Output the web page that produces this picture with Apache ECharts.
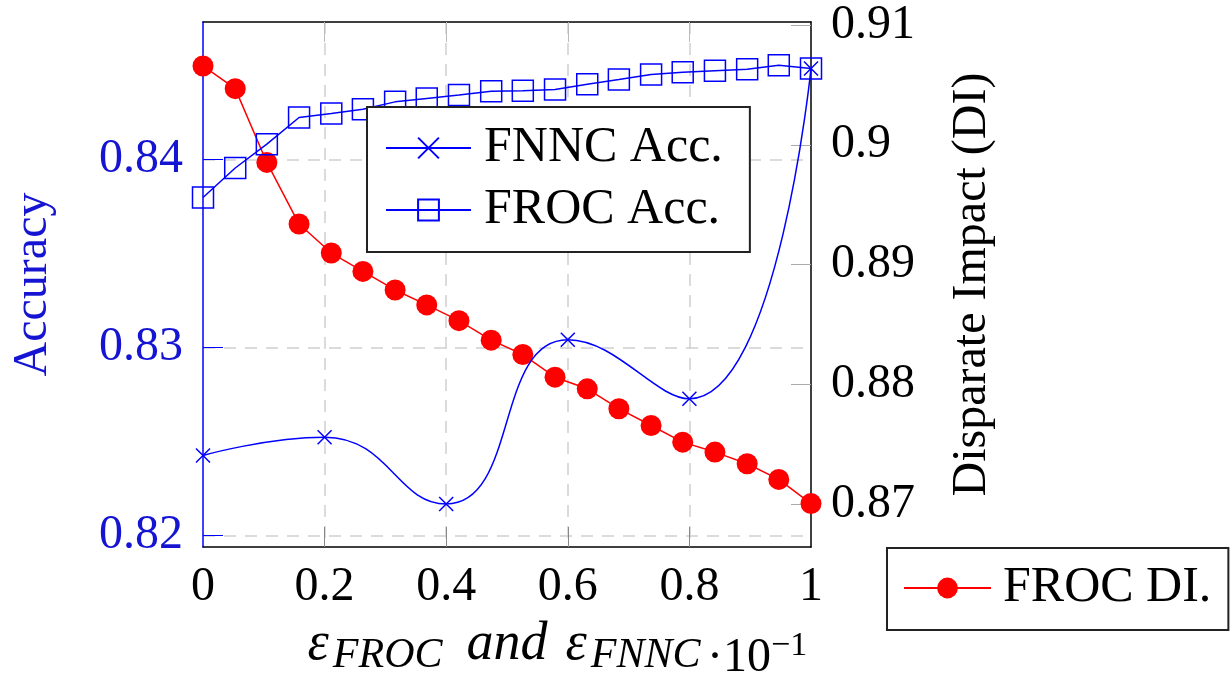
<!DOCTYPE html>
<html><head><meta charset="utf-8">
<script src="https://cdn.jsdelivr.net/npm/echarts@6/dist/echarts.min.js"></script>
<style>html,body{margin:0;padding:0;background:#fff}#c{width:1231px;height:685px}</style>
</head><body><div id="c"></div><script>
// ---- data ----
const xTickVals = [0, 0.2, 0.4, 0.6, 0.8, 1];
const xTickLabels = ['0', '0.2', '0.4', '0.6', '0.8', '1'];
const xGridVals = [0.2, 0.4, 0.6, 0.8];
const accTicks = [0.82, 0.83, 0.84];
const accTickLabels = ['0.82', '0.83', '0.84'];
const diTicks = [0.87, 0.88, 0.89, 0.90, 0.91];
const diTickLabels = ['0.87', '0.88', '0.89', '0.9', '0.91'];

const fnncX = [0, 0.2, 0.4, 0.6, 0.8, 1.0];
const fnncAcc = [0.82425, 0.82522, 0.82167, 0.83041, 0.82727, 0.84485];

const frocX = [0, 0.053, 0.105, 0.158, 0.211, 0.263, 0.316, 0.368, 0.421, 0.474,
               0.526, 0.579, 0.632, 0.684, 0.737, 0.789, 0.842, 0.895, 0.947, 1.0];
const frocAcc = [0.83798, 0.83955, 0.84082, 0.84224, 0.84245, 0.84268, 0.84307, 0.84325, 0.84343, 0.84364,
                 0.84366, 0.84373, 0.84401, 0.84426, 0.84453, 0.84464, 0.84472, 0.84480, 0.84502, 0.84485];
const frocDI = [0.90658, 0.90469, 0.89853, 0.89339, 0.89097, 0.88944, 0.88789, 0.88664, 0.88533, 0.88370,
                0.88250, 0.88061, 0.87964, 0.87798, 0.87658, 0.87519, 0.87436, 0.87339, 0.87208, 0.87006];

const accRange = [0.81938, 0.84732];
const diRange = [0.86644, 0.91025];
const xRange = [0, 1];

// ---- chart ----
const FONT = 'Liberation Serif';
const BLUE = '#0000ff';
const BLUE_TXT = '#1414d2';
const RED = '#ff0000';
const pick = (vals, labels) => v => { for (let i = 0; i < vals.length; i++) if (Math.abs(vals[i] - v) < 1e-9) return labels[i]; return ''; };
const zip = (a, b) => a.map((v, i) => [v, b[i]]);
const gridLine = { show: true, lineStyle: { color: '#cfcfcf', width: 1.5, type: [12, 9] } };

const chart = echarts.init(document.getElementById('c'), null, { renderer: 'canvas' });
chart.setOption({
  animation: false,
  backgroundColor: '#fff',
  grid: { left: 203, top: 22, right: 420, bottom: 138 },
  title: {
    text: '{d|·}{n|10}{p|−1}',
    left: 702, top: 624,
    textStyle: {
      fontWeight: 'normal',
      rich: {
        d: { fontFamily: FONT, fontSize: 48, fontWeight: 'normal', color: '#000', lineHeight: 58 },
        n: { fontFamily: FONT, fontSize: 48, fontWeight: 'normal', color: '#000', lineHeight: 58 },
        p: { fontFamily: FONT, fontSize: 34, fontWeight: 'normal', color: '#000', lineHeight: 34, verticalAlign: 'top' }
      }
    }
  },
  legend: [
    {
      data: ['FNNC Acc.', 'FROC Acc.'],
      orient: 'vertical', left: 367, top: 107,
      padding: [16, 27, 17, 18], itemGap: 12,
      itemWidth: 85, itemHeight: 26,
      backgroundColor: '#fff', borderColor: '#222', borderWidth: 2,
      selectedMode: false,
      textStyle: { fontFamily: FONT, fontSize: 50, color: '#000', lineHeight: 50, padding: [0, 0, 0, 8] }
    },
    {
      data: ['FROC DI.'],
      orient: 'vertical', left: 887, top: 548,
      padding: [15, 17, 17, 16],
      itemWidth: 87, itemHeight: 26,
      backgroundColor: '#fff', borderColor: '#222', borderWidth: 2,
      selectedMode: false,
      textStyle: { fontFamily: FONT, fontSize: 50, color: '#000', lineHeight: 50, padding: [0, 0, 0, 7] }
    }
  ],
  xAxis: [
    {
      type: 'value', min: xRange[0], max: xRange[1], position: 'bottom',
      axisLine: { show: true, onZero: false, lineStyle: { color: '#000', width: 1.5 } },
      axisTick: { show: true, inside: true, length: 20, customValues: xGridVals, lineStyle: { color: '#888', width: 1 } },
      axisLabel: { customValues: xTickVals, formatter: pick(xTickVals, xTickLabels), margin: 16,
                   fontFamily: FONT, fontSize: 48, color: '#000' },
      splitLine: gridLine,
      name: '{e|ε}{s|FROC}{a|and}{e|ε}{s|FNNC}',
      nameLocation: 'middle', nameGap: 66,
      nameTextStyle: {
        rich: {
          e: { fontFamily: FONT, fontSize: 54, fontStyle: 'italic', color: '#000', lineHeight: 64 },
          a: { fontFamily: FONT, fontSize: 54, fontStyle: 'italic', color: '#000', lineHeight: 64, padding: [0, 18, 0, 18] },
          s: { fontFamily: FONT, fontSize: 42, fontStyle: 'italic', color: '#000', lineHeight: 34, verticalAlign: 'bottom', padding: [0, 6, 0, 4] }
        }
      }
    },
    {
      type: 'value', min: xRange[0], max: xRange[1], position: 'top',
      axisLine: { show: true, onZero: false, lineStyle: { color: '#000', width: 1.5 } },
      axisTick: { show: true, inside: true, length: 20, customValues: xGridVals, lineStyle: { color: '#bbb', width: 1 } },
      axisLabel: { show: false },
      splitLine: { show: false }
    }
  ],
  yAxis: [
    {
      type: 'value', min: accRange[0], max: accRange[1], position: 'left',
      axisLine: { show: true, onZero: false, lineStyle: { color: BLUE, width: 1.5 } },
      axisTick: { show: true, inside: true, length: 20, customValues: accTicks, lineStyle: { color: BLUE, width: 1 } },
      axisLabel: { customValues: accTicks, formatter: pick(accTicks, accTickLabels), margin: 20,
                   fontFamily: FONT, fontSize: 48, color: BLUE_TXT },
      splitLine: gridLine,
      name: 'Accuracy', nameLocation: 'middle', nameRotate: 90, nameGap: 146,
      nameTextStyle: { fontFamily: FONT, fontSize: 48, color: BLUE_TXT }
    },
    {
      type: 'value', min: diRange[0], max: diRange[1], position: 'right',
      axisLine: { show: true, onZero: false, lineStyle: { color: '#000', width: 1.5 } },
      axisTick: { show: true, inside: true, length: 20, customValues: diTicks, lineStyle: { color: '#aaa', width: 1 } },
      axisLabel: { customValues: diTicks, formatter: pick(diTicks, diTickLabels), margin: 20,
                   fontFamily: FONT, fontSize: 48, color: '#000' },
      splitLine: { show: false },
      name: 'Disparate Impact (DI)', nameLocation: 'middle', nameRotate: 90, nameGap: 137,
      nameTextStyle: { fontFamily: FONT, fontSize: 48, color: '#000' }
    }
  ],
  series: [
    {
      name: 'FNNC Acc.', type: 'line', xAxisIndex: 0, yAxisIndex: 0,
      data: zip(fnncX, fnncAcc), smooth: 0.5,
      symbol: 'path://M0,0L10,10M0,10L10,0', symbolSize: 14,
      lineStyle: { color: BLUE, width: 1.5 },
      itemStyle: { color: BLUE, borderColor: BLUE, borderWidth: 1.5 },
      z: 3
    },
    {
      name: 'FROC Acc.', type: 'line', xAxisIndex: 0, yAxisIndex: 0,
      data: zip(frocX, frocAcc),
      symbol: 'rect', symbolSize: 21,
      lineStyle: { color: BLUE, width: 1.5 },
      itemStyle: { color: 'rgba(0,0,0,0)', borderColor: BLUE, borderWidth: 1.5 },
      z: 3
    },
    {
      name: 'FROC DI.', type: 'line', xAxisIndex: 0, yAxisIndex: 1,
      data: zip(frocX, frocDI),
      symbol: 'circle', symbolSize: 21,
      lineStyle: { color: RED, width: 1.5 },
      itemStyle: { color: RED },
      z: 2
    }
  ]
});
</script></body></html>
